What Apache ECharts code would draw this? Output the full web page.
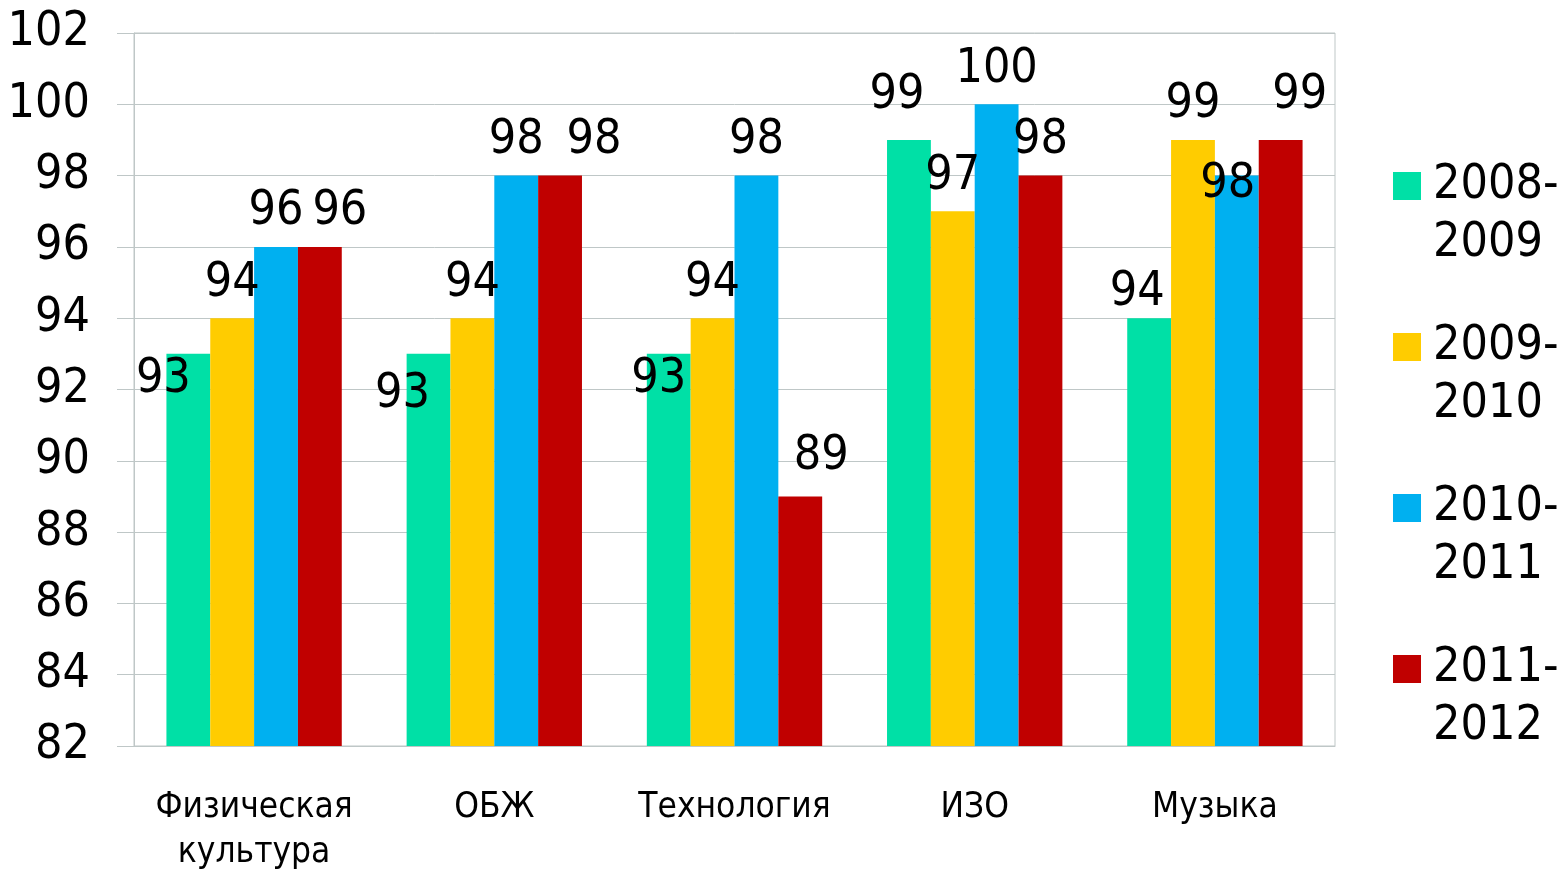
<!DOCTYPE html>
<html>
<head>
<meta charset="utf-8">
<title>chart</title>
<script src="https://cdn.jsdelivr.net/npm/echarts@6/dist/echarts.min.js"></script>
<style>
  html, body { margin: 0; padding: 0; background: #fff; }
  #chart { width: 1558px; height: 869px; }
</style>
</head>
<body>
<div id="chart"></div>
<script>
const categories = ['Физическая\nкультура', 'ОБЖ', 'Технология', 'ИЗО', 'Музыка']
const seriesNames = ['2008-2009', '2009-2010', '2010-2011', '2011-2012']
const values2008 = [93, 93, 93, 99, 94]
const values2009 = [94, 94, 94, 97, 99]
const values2010 = [96, 98, 98, 100, 98]
const values2011 = [96, 98, 89, 98, 99]
const colors = ['#00E0A6', '#FFCC00', '#00B0F0', '#C00000']

// hand-placed label nudges, like in the original slide
const labelNudges = [
  [[-25, 61], [-26, 76], [-10, 61], [-12, -9], [-12, 9]],
  [[0, 0], [0, 0], [0, 0], [0, 0], [0, 0]],
  [[0, 0], [0, 0], [0, 0], [0, 0], [-9, 44]],
  [[20, 0], [34, 0], [21, -5], [0, 0], [19, -9]]
]

const font = "'DejaVu Sans Condensed', 'DejaVu Sans', sans-serif"
const lineColor = '#BFC7C7'

const chart = echarts.init(document.getElementById('chart'))

const allValues = [values2008, values2009, values2010, values2011]

chart.setOption({
  animation: false,
  color: colors,
  grid: {
    left: 134,
    right: 223,
    top: 33,
    bottom: 123,
    outerBoundsMode: 'none',
    containLabel: false,
    show: true,
    borderColor: lineColor,
    borderWidth: 1
  },
  legend: {
    orient: 'vertical',
    left: 1393,
    top: 99,
    padding: 0,
    itemWidth: 28,
    itemHeight: 28,
    itemGap: -13,
    icon: 'rect',
    // empty first line keeps the icon level with the first text line
    formatter: name => ' \n' + name.replace('-', '-\n'),
    textStyle: {
      fontFamily: font,
      fontSize: 48,
      lineHeight: 58,
      color: '#000',
      padding: [0, 0, 0, 7]
    }
  },
  xAxis: {
    type: 'category',
    data: categories,
    axisLine: { lineStyle: { color: lineColor } },
    axisTick: { length: 13, lineStyle: { color: lineColor } },
    axisLabel: {
      interval: 0,
      color: '#000',
      fontFamily: font,
      fontSize: 35,
      lineHeight: 45,
      margin: 39
    }
  },
  yAxis: {
    type: 'value',
    min: 82,
    max: 102,
    interval: 2,
    axisLine: { show: true, lineStyle: { color: lineColor } },
    axisTick: { show: true, inside: false, length: 17, lineStyle: { color: lineColor } },
    splitLine: { lineStyle: { color: lineColor } },
    axisLabel: {
      color: '#000',
      fontFamily: font,
      fontSize: 48,
      margin: 44
    }
  },
  series: seriesNames.map((name, i) => ({
    name,
    type: 'bar',
    barGap: 0,
    barCategoryGap: '27%',
    data: allValues[i].map((v, j) => ({
      value: v,
      label: { offset: labelNudges[i][j] }
    })),
    label: {
      show: true,
      position: 'top',
      distance: 11,
      color: '#000',
      fontFamily: font,
      fontSize: 48
    }
  }))
})
</script>
</body>
</html>
